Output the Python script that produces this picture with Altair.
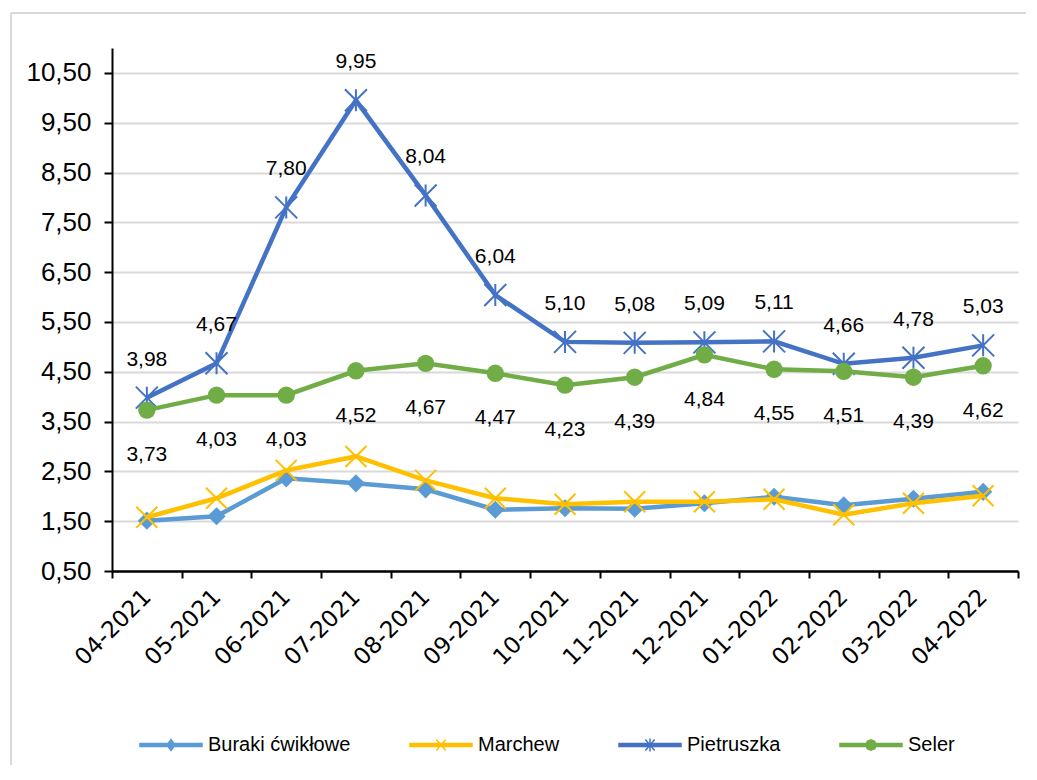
import altair as alt
import pandas as pd

# ---- data ----
months = ["04-2021", "05-2021", "06-2021", "07-2021", "08-2021", "09-2021", "10-2021",
          "11-2021", "12-2021", "01-2022", "02-2022", "03-2022", "04-2022"]
series_names = ["Buraki ćwikłowe", "Marchew", "Pietruszka", "Seler"]
buraki = [1.51, 1.60, 2.36, 2.26, 2.14, 1.73, 1.76, 1.75, 1.86, 1.99, 1.82, 1.95, 2.09]
marchew = [1.58, 1.96, 2.52, 2.80, 2.32, 1.96, 1.84, 1.89, 1.89, 1.94, 1.63, 1.86, 2.01]
pietruszka = [3.98, 4.67, 7.80, 9.95, 8.04, 6.04, 5.10, 5.08, 5.09, 5.11, 4.66, 4.78, 5.03]
seler = [3.73, 4.03, 4.03, 4.52, 4.67, 4.47, 4.23, 4.39, 4.84, 4.55, 4.51, 4.39, 4.62]
colors = ["#5B9BD5", "#FFC000", "#4472C4", "#70AD47"]
y_ticks = [0.5, 1.5, 2.5, 3.5, 4.5, 5.5, 6.5, 7.5, 8.5, 9.5, 10.5]

values = {"Buraki ćwikłowe": buraki, "Marchew": marchew, "Pietruszka": pietruszka, "Seler": seler}
rows = []
for s in series_names:
    for m, v in zip(months, values[s]):
        rows.append({"month": m, "series": s, "value": v})
df = pd.DataFrame(rows)

FMT = "replace(format(datum.value, '.2f'), '.', ',')"

# data-driven domain (series names sort in the same order as `colors`)
color_scale = alt.Scale(range=colors)

X = alt.X("month:O", sort=months,
          scale=alt.Scale(type="band", paddingInner=0, paddingOuter=0),
          axis=alt.Axis(title=None, labelAngle=-45, labelAlign="right", labelBaseline="middle",
                        labelFont="DejaVu Sans", labelFontSize=23, labelColor="black",
                        tickBand="extent", grid=False, domainColor="black", domainWidth=2.5,
                        tickSize=7, tickWidth=2, tickColor="black", labelPadding=15))
Y = alt.Y("value:Q", scale=alt.Scale(domain=[0.5, 11], nice=False, zero=False),
          axis=alt.Axis(title=None, values=y_ticks, labelExpr=FMT, grid=True,
                        gridColor="#D9D9D9", gridWidth=2, domainColor="black", domainWidth=2,
                        tickColor="black", tickSize=8, tickWidth=2,
                        labelFont="Liberation Sans", labelFontSize=26,
                        labelColor="black", labelPadding=13))

def only(name):
    return alt.Chart(df).transform_filter(alt.datum.series == name).encode(
        x=X, y=Y, color=alt.Color("series:N", scale=color_scale, legend=None))

XPATH = "M-1,-1L1,1M-1,1L1,-1"
ASTPATH = "M-1,-1L1,1M-1,1L1,-1M0,-1L0,1"

layers = []
one = pd.DataFrame({"a": [0]})
layers.append(alt.Chart(one).mark_rule(stroke="#D9D9D9", strokeWidth=2).encode(
    x=alt.value(-101), x2=alt.value(914), y=alt.value(-35)))
layers.append(alt.Chart(one).mark_rule(stroke="#D9D9D9", strokeWidth=2).encode(
    x=alt.value(-101), y=alt.value(-35), y2=alt.value(760)))

layers.append(only("Buraki ćwikłowe").mark_line(strokeWidth=4.5))
layers.append(only("Buraki ćwikłowe").mark_point(shape="diamond", filled=True, size=330, opacity=1))
layers.append(only("Marchew").mark_line(strokeWidth=4.5))
layers.append(only("Marchew").mark_point(shape=XPATH, filled=False, size=441, strokeWidth=2, opacity=1))
layers.append(only("Pietruszka").mark_line(strokeWidth=4.5))
layers.append(only("Pietruszka").mark_point(shape=ASTPATH, filled=False, size=484, strokeWidth=2, opacity=1))
layers.append(only("Seler").mark_line(strokeWidth=4.5))
layers.append(only("Seler").mark_point(shape="circle", filled=True, size=300, opacity=1))

txt_p = alt.Chart(df).transform_filter(alt.datum.series == "Pietruszka").transform_calculate(
    label=FMT).mark_text(dy=-38, font="Liberation Sans", fontSize=21, color="black").encode(
    x=X, y=Y, text="label:N")
txt_s = alt.Chart(df).transform_filter(alt.datum.series == "Seler").transform_calculate(
    label=FMT).mark_text(dy=45, font="Liberation Sans", fontSize=21, color="black").encode(
    x=X, y=Y, text="label:N")
layers += [txt_p, txt_s]

# legend-only layer: line-with-marker symbols (its own marks are clipped away)
LINE = "M-1,-0.045L1,-0.045L1,0.045L-1,0.045Z"
legend_paths = [
    LINE + "M0,-0.18L0.13,0L0,0.18L-0.13,0Z",
    LINE + "M-0.15,-0.18L0.15,0.18M-0.15,0.18L0.15,-0.18",
    LINE + "M-0.15,-0.18L0.15,0.18M-0.15,0.18L0.15,-0.18M0,-0.21L0,0.21",
    LINE + "M-0.17,0L-0.12,-0.12L0,-0.17L0.12,-0.12L0.17,0L0.12,0.12L0,0.17L-0.12,0.12Z",
]
leg = alt.Legend(title=None, orient="none", direction="horizontal", legendX=27, legendY=665,
                 symbolSize=3844, symbolStrokeWidth=1.5, labelFont="Liberation Sans",
                 labelFontSize=20, labelColor="black", labelOffset=5, columnPadding=56,
                 padding=0)
legend_layer = alt.Chart(df).mark_point(filled=True, opacity=1, clip=True).encode(
    x=alt.value(0), y=alt.value(-3000),
    fill=alt.Fill("series:N", scale=alt.Scale(domain=series_names, range=colors), legend=leg),
    stroke=alt.Stroke("series:N", scale=alt.Scale(domain=series_names, range=colors), legend=leg),
    shape=alt.Shape("series:N", scale=alt.Scale(domain=series_names, range=legend_paths), legend=leg),
)
layers.append(legend_layer)

chart = alt.layer(*layers).properties(
    width=906, height=523,
    padding={"left": 104, "top": 40, "right": 11, "bottom": 194},
    autosize=alt.AutoSizeParams(type="none"),
    background="white",
).configure_view(stroke=None)

chart.save("out.html", embed_options={"renderer": "svg", "actions": False})
